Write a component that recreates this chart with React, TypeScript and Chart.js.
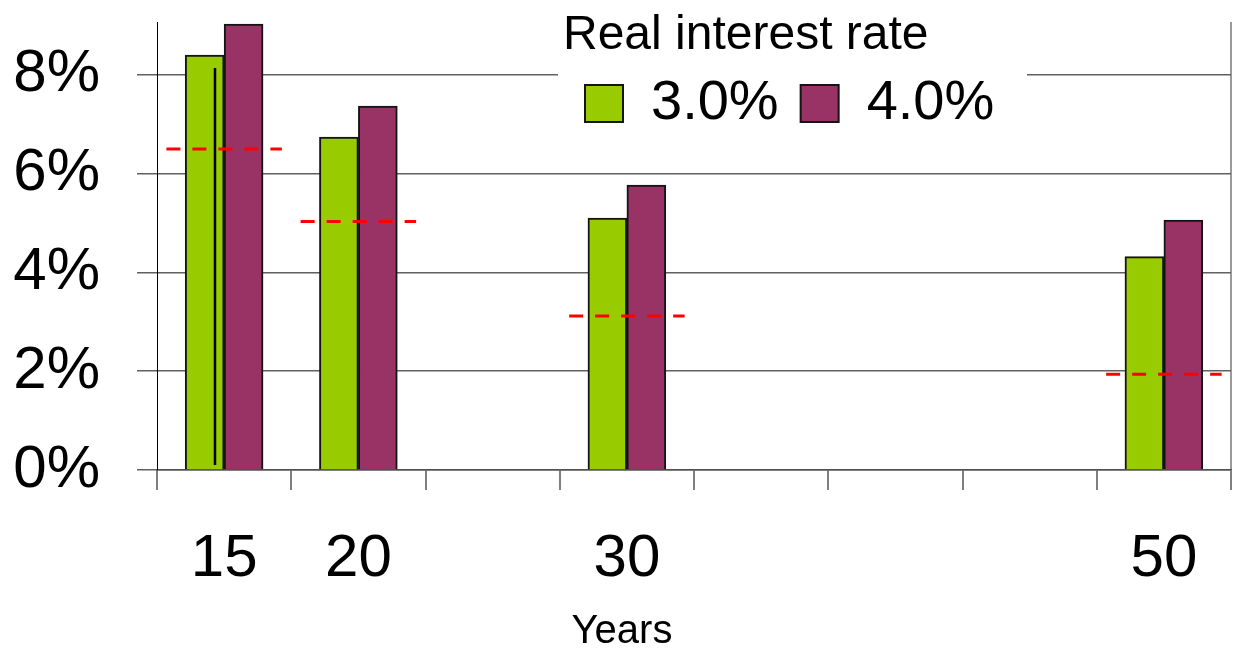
import React, { useEffect, useRef } from 'react';
import { Chart, registerables } from 'chart.js';

Chart.register(...registerables);

// ---- data ----
const years = ['15', '20', '25', '30', '35', '40', '45', '50'];
const rate3 = [8.40, 6.74, null, 5.10, null, null, null, 4.32];
const rate4 = [9.03, 7.37, null, 5.77, null, null, null, 5.06];
const seriesLabels = ['3.0%', '4.0%'];
const refYears = ['15', '20', '30', '50'];
const refLevels = [6.50, 5.03, 3.12, 1.94];
const markerYear = '15';
const markerValues = [0.1, 8.14];
const yTicks = [0, 2, 4, 6, 8];

// ---- style / layout constants ----
const FONT = '"Liberation Sans", Arial, Helvetica, sans-serif';
const GREEN = '#99CC00';
const PURPLE = '#993366';
const BAR_SHIFT = 0.145; // half bar width, in category units
const DASH_HALF = 0.43;
const MARKER_OFFSET = -0.068;
const LEGEND_LEFT = 563;
const LEGEND_BG = { left: 558, top: 0, right: 1027, bottom: 138 };

const legendPlacement = {
  id: 'legendPlacement',
  afterLayout(chart: any) {
    const lg = chart.legend;
    if (!lg) return;
    const w = lg.right - lg.left;
    lg.left = LEGEND_LEFT;
    lg.right = LEGEND_LEFT + w;
    lg.top = 0;
    lg.bottom = LEGEND_BG.bottom;
  },
  beforeDatasetsDraw(chart: any) {
    const ctx = chart.ctx;
    ctx.save();
    ctx.fillStyle = '#ffffff';
    ctx.fillRect(LEGEND_BG.left, LEGEND_BG.top, LEGEND_BG.right - LEGEND_BG.left, LEGEND_BG.bottom - LEGEND_BG.top);
    ctx.restore();
    if (chart.legend) chart.legend.draw(chart.chartArea);
  },
};

function barPoints(values: (number | null)[], shift: number) {
  const pts: any[] = [];
  values.forEach((v, i) => {
    if (v != null) pts.push({ x: i + shift, y: v });
  });
  return pts;
}

export default function App() {
  const ref = useRef<HTMLCanvasElement | null>(null);

  useEffect(() => {
    if (!ref.current) return;
    Chart.defaults.font.family = FONT;
    Chart.defaults.color = '#000';

    const dashPoints: any[] = [];
    refYears.forEach((yr, k) => {
      const i = years.indexOf(yr);
      dashPoints.push({ x: i - DASH_HALF, y: refLevels[k] });
      dashPoints.push({ x: i + DASH_HALF, y: refLevels[k] });
      dashPoints.push({ x: i + 0.5, y: null });
    });
    const mi = years.indexOf(markerYear);
    const markerPoints = markerValues.map((v) => ({ x: mi + MARKER_OFFSET, y: v }));

    const chart = new Chart(ref.current, {
      type: 'bar',
      data: {
        labels: years,
        datasets: [
          {
            label: seriesLabels[0],
            data: barPoints(rate3, -BAR_SHIFT),
            xAxisID: 'x2',
            backgroundColor: GREEN,
            borderColor: '#141414',
            borderWidth: 2,
            grouped: false,
            categoryPercentage: 1,
            barPercentage: 1,
            order: 2,
          } as any,
          {
            label: seriesLabels[1],
            data: barPoints(rate4, BAR_SHIFT),
            xAxisID: 'x2',
            backgroundColor: PURPLE,
            borderColor: '#141414',
            borderWidth: 2,
            grouped: false,
            categoryPercentage: 1,
            barPercentage: 1,
            order: 2,
          } as any,
          {
            type: 'line',
            label: 'ref',
            data: dashPoints,
            xAxisID: 'x2',
            yAxisID: 'y',
            borderColor: '#ff0000',
            borderWidth: 3,
            borderDash: [14, 12],
            pointRadius: 0,
            spanGaps: false,
            fill: false,
            order: 0,
          } as any,
          {
            type: 'line',
            label: 'marker',
            data: markerPoints,
            xAxisID: 'x2',
            yAxisID: 'y',
            borderColor: '#000000',
            borderWidth: 2.5,
            pointRadius: 0,
            fill: false,
            order: 0,
          } as any,
        ],
      },
      options: {
        responsive: false,
        animation: false,
        devicePixelRatio: 1,
        layout: { padding: { left: 13, right: 4, top: 21, bottom: 0 } },
        scales: {
          x: {
            type: 'category',
            offset: true,
            grid: {
              offset: true,
              color: (c: any) => (c.type === 'tick' ? 'rgba(0,0,0,0)' : '#9a9a9a'),
              lineWidth: 2,
              tickColor: '#000',
              tickWidth: 1,
              tickLength: 20,
              drawTicks: true,
            },
            border: { display: true, color: '#505050', width: 1.5 },
            ticks: {
              font: { size: 60, family: FONT },
              padding: 33,
              maxRotation: 0,
              autoSkip: false,
              color: '#000',
              callback: (_v: any, idx: number) => (rate3[idx] == null ? '' : years[idx]),
            },
            afterFit: (s: any) => {
              s.paddingLeft = 0;
              s.paddingRight = 0;
              s.height = 125;
            },
          },
          x2: {
            type: 'linear',
            display: false,
            position: 'bottom',
            offset: false,
            grid: { offset: false },
            min: -0.5,
            max: years.length - 0.5,
          } as any,
          y: {
            min: 0,
            max: 9.07,
            grid: {
              color: '#606060',
              lineWidth: 1.5,
              tickLength: 20,
              drawTicks: true,
            },
            border: { display: true, color: '#000', width: 1 },
            ticks: {
              stepSize: 2,
              font: { size: 60, family: FONT },
              padding: 37,
              color: '#000',
              callback: (v: any) => v + '%',
            },
            afterBuildTicks: (axis: any) => {
              axis.ticks = yTicks.map((v) => ({ value: v }));
            },
            afterFit: (s: any) => {
              s.paddingTop = 0;
              s.paddingBottom = 0;
              s.width = 144;
            },
          },
        },
        plugins: {
          tooltip: { enabled: false },
          legend: {
            display: true,
            position: 'top',
            align: 'start',
            maxHeight: 1,
            labels: {
              font: { size: 56, family: FONT },
              boxWidth: 38,
              boxHeight: 37,
              padding: 22,
              color: '#000',
              filter: (item: any) => item.datasetIndex < 2,
            },
            title: {
              display: true,
              text: 'Real interest rate',
              position: 'start',
              color: '#000',
              font: { size: 48, family: FONT, lineHeight: 0.8 },
              padding: { top: 12, bottom: 3 },
            },
          } as any,
          title: {
            display: true,
            text: 'Years',
            position: 'bottom',
            align: 'center',
            color: '#000',
            font: { size: 40, family: FONT, weight: 'normal', lineHeight: 0.9 },
            padding: { top: 19, bottom: 0 },
          } as any,
        },
      },
      plugins: [legendPlacement],
    });

    return () => chart.destroy();
  }, []);

  return (
    <div style={{ position: 'fixed', left: 0, top: 0, width: 1235, height: 650, background: '#fff' }}>
      <canvas ref={ref} width={1235} height={650} style={{ display: 'block', width: 1235, height: 650 }} />
    </div>
  );
}
